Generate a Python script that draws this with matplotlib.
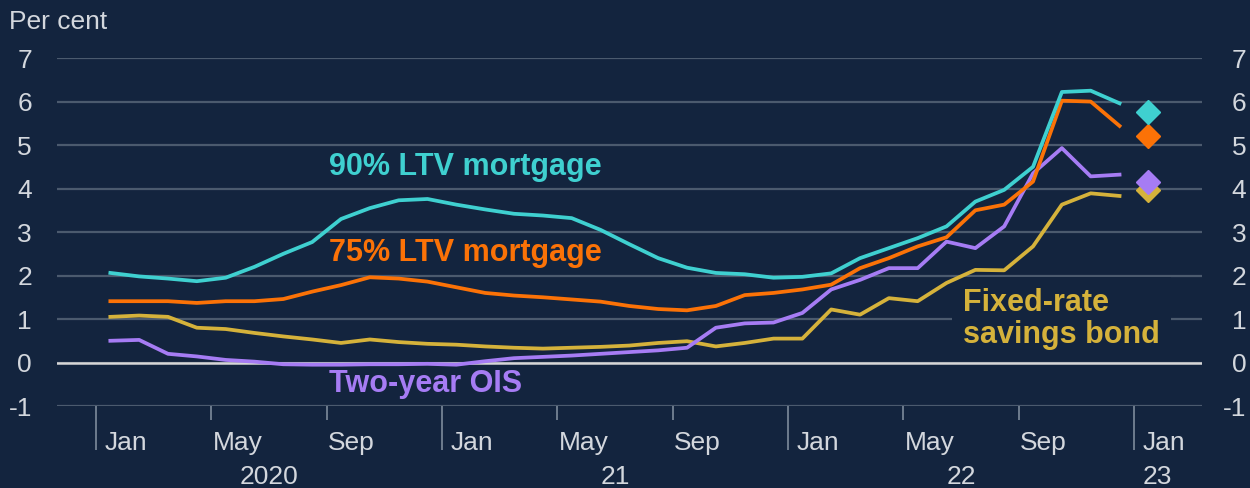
import numpy as np
import matplotlib
matplotlib.use("Agg")
import matplotlib.pyplot as plt
from matplotlib.transforms import blended_transform_factory

# monthly data, Jan 2020 .. Dec 2022
ltv90 = [2.06, 1.98, 1.93, 1.87, 1.95, 2.20, 2.50, 2.77, 3.30, 3.55, 3.73, 3.76,
         3.63, 3.52, 3.42, 3.38, 3.32, 3.05, 2.72, 2.40, 2.18, 2.06, 2.03, 1.95,
         1.97, 2.05, 2.40, 2.63, 2.86, 3.13, 3.70, 3.97, 4.50, 6.22, 6.25, 5.96]
ltv75 = [1.41, 1.41, 1.41, 1.37, 1.41, 1.41, 1.46, 1.63, 1.78, 1.96, 1.93, 1.86,
         1.73, 1.60, 1.54, 1.50, 1.45, 1.40, 1.30, 1.23, 1.20, 1.30, 1.55, 1.60,
         1.68, 1.79, 2.17, 2.40, 2.67, 2.88, 3.50, 3.63, 4.16, 6.02, 6.00, 5.44]
ois2y = [0.50, 0.52, 0.20, 0.14, 0.06, 0.02, -0.04, -0.05, -0.05, -0.04, -0.04, -0.03,
         -0.05, 0.03, 0.10, 0.13, 0.16, 0.20, 0.24, 0.28, 0.34, 0.80, 0.90, 0.92,
         1.14, 1.68, 1.90, 2.17, 2.17, 2.78, 2.63, 3.13, 4.35, 4.93, 4.28, 4.32]
bond = [1.05, 1.08, 1.05, 0.80, 0.77, 0.68, 0.60, 0.53, 0.45, 0.53, 0.47, 0.43,
        0.41, 0.37, 0.34, 0.32, 0.34, 0.36, 0.39, 0.45, 0.49, 0.37, 0.45, 0.55,
        0.55, 1.22, 1.10, 1.48, 1.41, 1.83, 2.13, 2.12, 2.67, 3.63, 3.89, 3.83]

# January 2023 points (diamonds)
jan23 = {"ltv90": 5.77, "ltv75": 5.21, "ois2y": 4.16, "bond": 3.97}

month_ticks = [0, 4, 8, 12, 16, 20, 24, 28, 32, 36]
month_labels = ["Jan", "May", "Sep", "Jan", "May", "Sep", "Jan", "May", "Sep", "Jan"]
year_pos = [6, 18, 30, 36.8]
year_labels = ["2020", "21", "22", "23"]

BG = "#13243e"
TXT = "#d3d7dd"
GRID = "#4b5a6e"
TEAL = "#3fd0d0"
ORANGE = "#fb7207"
PURPLE = "#a67cf4"
GOLD = "#d5b23b"

plt.rcParams["font.family"] = ["Liberation Sans", "DejaVu Sans"]
plt.rcParams["axes.unicode_minus"] = False

fig = plt.figure(figsize=(12.5, 4.88), dpi=100, facecolor=BG)
ax = fig.add_axes([0.0456, 0.168, 0.916, 0.713], facecolor=BG)

x = np.arange(len(ltv90)) + 0.5
lw = 2.7
ax.plot(x, bond, color=GOLD, lw=lw, zorder=3)
ax.plot(x, ois2y, color=PURPLE, lw=lw, zorder=3.1)
ax.plot(x, ltv75, color=ORANGE, lw=lw, zorder=3.2)
ax.plot(x, ltv90, color=TEAL, lw=lw, zorder=3.3)

xd = 36.5
ms = 12.5
ax.plot([xd], [jan23["bond"]], marker="D", ms=ms, color=GOLD, zorder=4)
ax.plot([xd], [jan23["ois2y"]], marker="D", ms=ms, color=PURPLE, zorder=4.1)
ax.plot([xd], [jan23["ltv75"]], marker="D", ms=ms, color=ORANGE, zorder=4.2)
ax.plot([xd], [jan23["ltv90"]], marker="D", ms=ms, color=TEAL, zorder=4.3)

ax.set_xlim(-1.35, 38.36)
ax.set_ylim(-1, 7)
ax.set_yticks(range(-1, 8))
ax.grid(axis="y", color=GRID, lw=1.6, zorder=1)
ax.axhline(0, color="#d6d6d6", lw=1.8, zorder=2)
for s in ax.spines.values():
    s.set_visible(False)

ax.tick_params(axis="y", length=0, pad=18, labelsize=19, colors=TXT)

# x ticks: long at January, short at May/Sep
ax.set_xticks([0, 12, 24, 36])
ax.set_xticks([4, 8, 16, 20, 28, 32], minor=True)
ax.tick_params(axis="x", which="major", length=32, width=1.1, color="#8793a3",
               labelbottom=False)
ax.tick_params(axis="x", which="minor", length=10, width=1.1, color="#8793a3",
               labelbottom=False)

trans = blended_transform_factory(ax.transData, ax.transAxes)
for pos, lab in zip(month_ticks, month_labels):
    off = 0.3 if lab == "Jan" else 0.05
    ax.text(pos + off, -0.106, lab, transform=trans, ha="left", va="center",
            fontsize=19, color=TXT)
for pos, lab in zip(year_pos, year_labels):
    ax.text(pos, -0.205, lab, transform=trans, ha="center", va="center",
            fontsize=19, color=TXT)

ax2 = ax.twinx()
ax2.set_ylim(ax.get_ylim())
ax2.set_yticks(range(-1, 8))
ax2.tick_params(axis="y", length=0, pad=32, labelsize=19, colors=TXT)
for t in ax2.get_yticklabels():
    t.set_horizontalalignment("right")
for s in ax2.spines.values():
    s.set_visible(False)

fig.text(0.0072, 0.955, "Per cent", fontsize=19, color=TXT, ha="left", va="center")

# series labels
ax.text(8.1, 4.5, "90% LTV mortgage", color=TEAL, fontsize=22, fontweight="bold",
        ha="left", va="center")
ax.text(8.1, 2.52, "75% LTV mortgage", color=ORANGE, fontsize=22, fontweight="bold",
        ha="left", va="center")
ax.text(8.1, -0.5, "Two-year OIS", color=PURPLE, fontsize=22, fontweight="bold",
        ha="left", va="center")
ax.text(30.07, 1.0, "Fixed-rate\nsavings bond", color=GOLD, fontsize=22,
        fontweight="bold", ha="left", va="center", linespacing=1.1, zorder=2.5,
        bbox=dict(boxstyle="square,pad=0.35", facecolor=BG, edgecolor="none"))

fig.savefig("out.png", dpi=100, facecolor=BG)
